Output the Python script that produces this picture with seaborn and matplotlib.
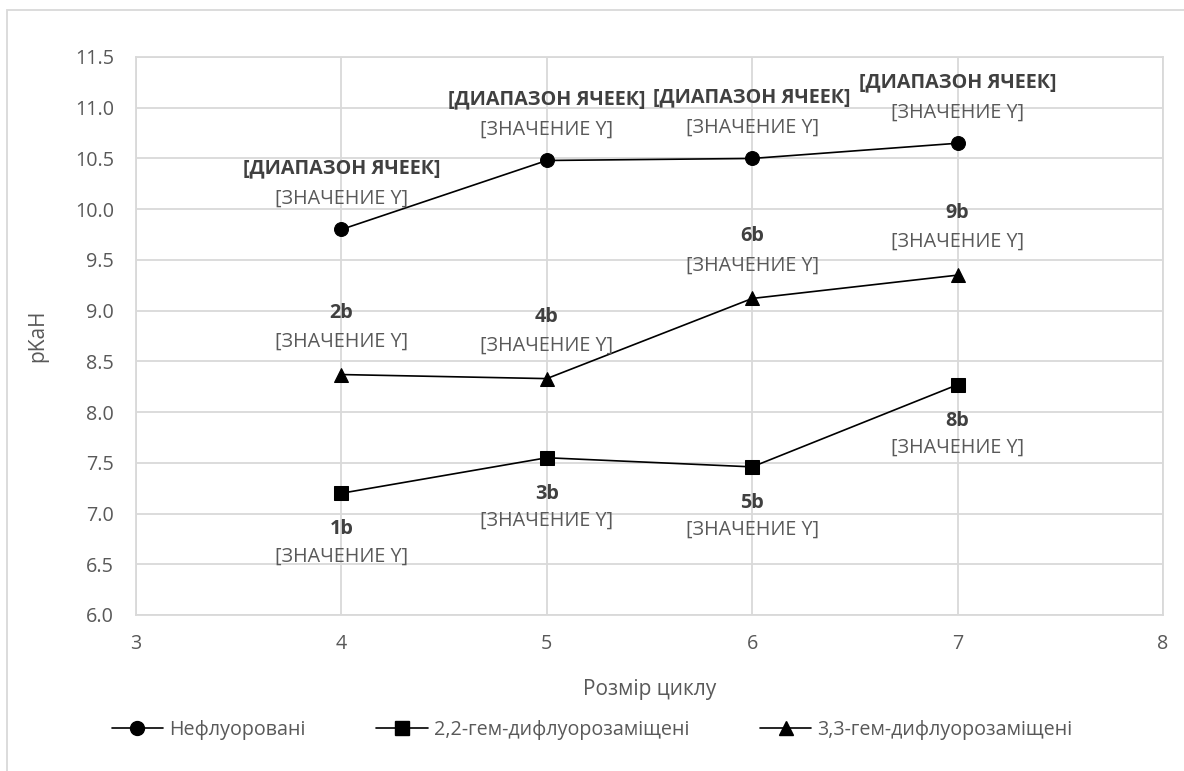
import matplotlib
matplotlib.use("Agg")
import matplotlib.pyplot as plt
from matplotlib.patches import Rectangle
from matplotlib.lines import Line2D
import seaborn as sns
import pandas as pd

# Ring size vs. pKaH for three families of amines
ring_size = [4, 5, 6, 7]
pka_nonfluorinated = [9.80, 10.48, 10.50, 10.65]
pka_22_difluoro = [7.20, 7.55, 7.46, 8.27]
pka_33_difluoro = [8.37, 8.33, 9.12, 9.35]

series_names = ["Нефлуоровані", "2,2-гем-дифлуорозаміщені", "3,3-гем-дифлуорозаміщені"]
labels_nonfluorinated = ["[ДИАПАЗОН ЯЧЕЕК]"] * 4
labels_22_difluoro = ["1b", "3b", "5b", "8b"]
labels_33_difluoro = ["2b", "4b", "6b", "9b"]
value_placeholder = "[ЗНАЧЕНИЕ Y]"

x_ticks = [3, 4, 5, 6, 7, 8]
y_ticks = [6.0, 6.5, 7.0, 7.5, 8.0, 8.5, 9.0, 9.5, 10.0, 10.5, 11.0, 11.5]

sns.set_theme(style="white")
plt.rcParams["font.family"] = ["Open Sans", "DejaVu Sans"]

GRID = "#d9d9d9"
TEXT = "#595959"
LABEL = "#404040"
FS = 14.2

fig = plt.figure(figsize=(11.84, 7.71), dpi=100)
fig.patch.set_facecolor("white")
# chart-area border
fig.patches.append(Rectangle((7 / 1184, -0.1), 1.2, 1.0 + 0.1 - 10 / 771,
                             transform=fig.transFigure, fill=False,
                             edgecolor=GRID, linewidth=1.3))

ax = fig.add_axes([136 / 1184, 1 - 615 / 771, (1163 - 136) / 1184, (615 - 57) / 771])

frames = []
for name, vals in zip(series_names, [pka_nonfluorinated, pka_22_difluoro, pka_33_difluoro]):
    frames.append(pd.DataFrame({"size": ring_size, "pKaH": vals, "series": name}))
df = pd.concat(frames, ignore_index=True)

markers = {series_names[0]: "o", series_names[1]: "s", series_names[2]: "^"}
sizes = {series_names[0]: 10, series_names[1]: 9.5, series_names[2]: 10}
for name in series_names:
    sub = df[df["series"] == name]
    sns.lineplot(data=sub, x="size", y="pKaH", ax=ax, color="black", linewidth=1.2,
                 marker=markers[name], markersize=sizes[name], markeredgecolor="black",
                 markerfacecolor="black", legend=False, zorder=3)

ax.set_xlim(3, 8)
ax.set_ylim(6.0, 11.5)
ax.set_xticks(x_ticks)
ax.set_yticks(y_ticks)
ax.set_xticklabels([str(t) for t in x_ticks])
ax.set_yticklabels([f"{t:.1f}" for t in y_ticks])
ax.grid(True, color=GRID, linewidth=1.3)
for sp in ax.spines.values():
    sp.set_color(GRID)
    sp.set_linewidth(1.3)
ax.tick_params(axis="both", length=0, labelsize=FS, labelcolor=TEXT)
ax.tick_params(axis="y", pad=16)
ax.tick_params(axis="x", pad=14)
ax.set_xlabel("Розмір циклу", fontsize=FS + 0.8, color=TEXT, labelpad=18)
ax.set_ylabel("pKaH", fontsize=FS + 0.8, color=TEXT, labelpad=19)


def put_labels(xs, ys, names, name_off, value_off):
    for x, y, n in zip(xs, ys, names):
        ax.annotate(n, (x, y), xytext=(0, name_off), textcoords="offset pixels",
                    ha="center", va="center", fontsize=FS, fontweight="bold",
                    color=LABEL, zorder=4)
        ax.annotate(value_placeholder, (x, y), xytext=(0, value_off),
                    textcoords="offset pixels", ha="center", va="center",
                    fontsize=FS, color=TEXT, zorder=4)


put_labels(ring_size, pka_nonfluorinated, labels_nonfluorinated, 61, 31)
put_labels(ring_size, pka_33_difluoro, labels_33_difluoro, 62, 33)
put_labels(ring_size, pka_22_difluoro, labels_22_difluoro, -36, -63)

handles = [Line2D([], [], color="black", linewidth=1.2, marker=markers[n],
                  markersize=sizes[n], markerfacecolor="black", markeredgecolor="black")
           for n in series_names]
leg = fig.legend(handles, series_names, loc="center", bbox_to_anchor=(592 / 1184, 1 - 730 / 771),
                 ncol=3, frameon=False, fontsize=FS, handlelength=2.6,
                 columnspacing=3.6, handletextpad=0.3)
for t in leg.get_texts():
    t.set_color(TEXT)

fig.savefig("out.png", dpi=100, facecolor="white")
